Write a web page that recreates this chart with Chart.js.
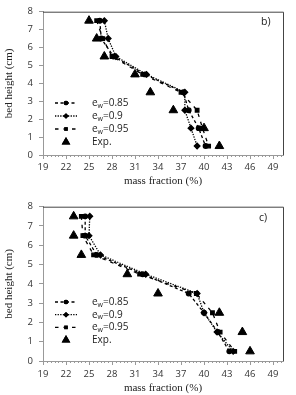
<!DOCTYPE html>
<html>
<head>
<meta charset="utf-8">
<script src="https://cdn.jsdelivr.net/npm/chart.js@4.4.1/dist/chart.umd.min.js"></script>
<style>
  html, body { margin: 0; padding: 0; background: #fff; }
  #wrap { position: relative; width: 296px; height: 395px; }
  canvas { position: absolute; left: 0; }
</style>
</head>
<body>
<div id="wrap">
  <canvas id="chartB" width="296" height="195" style="top:0"></canvas>
  <canvas id="chartC" width="296" height="200" style="top:195px"></canvas>
</div>
<script>
// bed heights shared by every series
const heights = [7.5, 6.5, 5.5, 4.5, 3.5, 2.5, 1.5, 0.5];

// panel b)
const b085 = [26.4, 26.6, 28.2, 32.3, 37.3, 38.0, 39.3, 40.2];
const b090 = [27.0, 27.5, 28.5, 32.5, 37.5, 37.5, 38.3, 39.1];
const b095 = [26.0, 26.8, 28.0, 32.0, 37.0, 39.1, 39.8, 40.6];
const bExp = [25, 26, 27, 31, 33, 36, 40, 42];

// panel c)
const c085 = [24.5, 24.5, 26.0, 32.0, 38.0, 40.0, 41.8, 43.3];
const c090 = [25.1, 25.0, 26.5, 32.4, 39.1, 40.0, 41.7, 43.8];
const c095 = [24.0, 24.2, 25.6, 31.6, 39.0, 41.1, 42.1, 44.0];
const cExp = [23, 23, 24, 30, 34, 42, 45, 46];

const xTicks = [19, 22, 25, 28, 31, 34, 37, 40, 43, 46, 49];
const yTicks = [0, 1, 2, 3, 4, 5, 6, 7, 8];
const seriesNames = ['0.85', '0.9', '0.95', 'Exp.'];

const tickFont = { family: 'Open Sans', size: 9.5 };
const titleFont = { family: 'Liberation Serif', size: 11 };

const pts = (xs) => xs.map((x, i) => ({ x: x, y: heights[i] }));

// frame on top and right of the plot + minor ticks on the x axis
const framePlugin = {
  id: 'frame',
  afterDraw(chart) {
    const { ctx, chartArea: a } = chart;
    const xs = chart.scales.x;
    ctx.save();
    ctx.lineWidth = 1;
    ctx.strokeStyle = '#444';
    ctx.beginPath();
    ctx.moveTo(a.left, a.top + 0.5);
    ctx.lineTo(a.right + 0.5, a.top + 0.5);
    ctx.lineTo(a.right + 0.5, a.bottom);
    ctx.stroke();
    ctx.strokeStyle = '#999';
    ctx.beginPath();
    for (let v = 19.5; v < xs.max; v += 0.5) {
      const px = Math.round(xs.getPixelForValue(v)) + 0.5;
      ctx.moveTo(px, a.bottom);
      ctx.lineTo(px, a.bottom + 2);
    }
    ctx.stroke();
    ctx.restore();
  }
};

// legend drawn by hand so the subscript w can be shown
const legendPlugin = {
  id: 'subLegend',
  afterDraw(chart, args, opts) {
    const { ctx } = chart;
    ctx.save();
    chart.data.datasets.forEach((ds, i) => {
      const y = opts.y + i * opts.gap;
      if (ds.showLine) {
        ctx.strokeStyle = '#000';
        ctx.lineWidth = 1.3;
        ctx.setLineDash(ds.borderDash);
        ctx.beginPath();
        ctx.moveTo(opts.x, y);
        ctx.lineTo(opts.x + 22, y);
        ctx.stroke();
        ctx.setLineDash([]);
      }
      ctx.fillStyle = '#000';
      Chart.helpers.drawPoint(ctx, {
        pointStyle: ds.pointStyle, radius: ds.pointRadius, rotation: 0, borderWidth: 0
      }, opts.x + 11, y);
      ctx.fill();
      ctx.fillStyle = '#222';
      ctx.textBaseline = 'middle';
      let tx = opts.x + 37;
      if (ds.showLine) {
        ctx.font = '10px "Open Sans"';
        ctx.fillText('e', tx, y);
        tx += ctx.measureText('e').width;
        ctx.font = '7px "Open Sans"';
        ctx.fillText('w', tx, y + 2.5);
        tx += ctx.measureText('w').width;
        ctx.font = '10px "Open Sans"';
        ctx.fillText('=' + ds.label, tx, y);
      } else {
        ctx.font = '10px "Open Sans"';
        ctx.fillText(ds.label, tx, y);
      }
    });
    // panel letter
    ctx.font = '10.5px "Open Sans"';
    ctx.fillStyle = '#222';
    ctx.fillText(opts.panel, opts.panelX, opts.panelY);
    ctx.restore();
  }
};

function makeChart(id, s085, s090, s095, exp, cfg) {
  const H = document.getElementById(id).height;
  return new Chart(document.getElementById(id), {
    type: 'scatter',
    data: {
      datasets: [
        { label: seriesNames[0], data: pts(s085), showLine: true, borderColor: '#000', backgroundColor: '#000',
          borderWidth: 1.3, borderDash: [3, 2.5], pointStyle: 'circle', pointRadius: 2.3 },
        { label: seriesNames[1], data: pts(s090), showLine: true, borderColor: '#000', backgroundColor: '#000',
          borderWidth: 1.3, borderDash: [1.3, 1.3], pointStyle: 'rectRot', pointRadius: 2.8 },
        { label: seriesNames[2], data: pts(s095), showLine: true, borderColor: '#000', backgroundColor: '#000',
          borderWidth: 1.3, borderDash: [3.5, 5], pointStyle: 'rect', pointRadius: 2.5 },
        { label: seriesNames[3], data: pts(exp), showLine: false, borderColor: '#000', backgroundColor: '#000',
          pointStyle: 'triangle', pointRadius: 5 }
      ]
    },
    options: {
      responsive: false,
      animation: false,
      layout: { padding: { top: cfg.top, right: 13, left: 0, bottom: 0 } },
      plugins: {
        legend: { display: false },
        tooltip: { enabled: false },
        subLegend: cfg.legend
      },
      scales: {
        x: {
          type: 'linear', min: 19, max: 50.3,
          afterBuildTicks: (s) => { s.ticks = xTicks.map(v => ({ value: v })); },
          afterFit: (s) => { s.height = H - cfg.bottom; },
          grid: { drawOnChartArea: false, tickLength: 4, color: '#999' },
          border: { color: '#999' },
          ticks: { font: tickFont, color: '#333', padding: cfg.tickPad, maxRotation: 0 },
          title: { display: true, text: 'mass fraction (%)', font: titleFont, color: '#222',
                   padding: { top: 0, bottom: cfg.titlePad } }
        },
        y: {
          type: 'linear', min: 0, max: 8,
          afterBuildTicks: (s) => { s.ticks = yTicks.map(v => ({ value: v })); },
          afterFit: (s) => { s.width = 43; },
          grid: { drawOnChartArea: false, tickLength: 4, color: '#999' },
          border: { color: '#999' },
          ticks: { font: tickFont, color: '#333', padding: 6 },
          title: { display: true, text: 'bed height (cm)', font: titleFont, color: '#222',
                   padding: { top: 3, bottom: 0 } }
        }
      }
    },
    plugins: [framePlugin, legendPlugin]
  });
}

makeChart('chartB', b085, b090, b095, bExp, {
  top: 7, bottom: 155, tickPad: 3, titlePad: 7,
  legend: { x: 55, y: 103, gap: 13, panel: 'b)', panelX: 261, panelY: 22 }
});
makeChart('chartC', c085, c090, c095, cExp, {
  top: 8, bottom: 166, tickPad: 4, titlePad: 0,
  legend: { x: 55, y: 107, gap: 12.7, panel: 'c)', panelX: 259, panelY: 23 }
});
</script>
</body>
</html>
